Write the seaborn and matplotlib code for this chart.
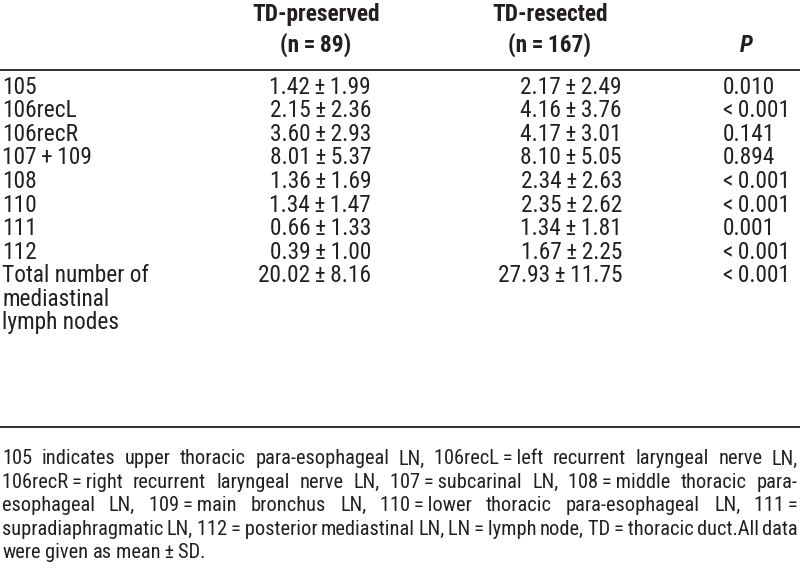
import matplotlib
matplotlib.use("Agg")
import matplotlib.pyplot as plt
import seaborn as sns

# data
stations = ["105", "106recL", "106recR", "107\u2009+\u2009109", "108", "110", "111", "112",
            "Total number of\nmediastinal\nlymph nodes"]
pres_mean = ["1.42", "2.15", "3.60", "8.01", "1.36", "1.34", "0.66", "0.39", "20.02"]
pres_sd = ["1.99", "2.36", "2.93", "5.37", "1.69", "1.47", "1.33", "1.00", "8.16"]
res_mean = ["2.17", "4.16", "4.17", "8.10", "2.34", "2.35", "1.34", "1.67", "27.93"]
res_sd = ["2.49", "3.76", "3.01", "5.05", "2.63", "2.62", "1.81", "2.25", "11.75"]
p_values = ["0.010", "<\u20090.001", "0.141", "0.894", "<\u20090.001", "<\u20090.001", "0.001",
            "<\u20090.001", "<\u20090.001"]
headers = ["TD-preserved\n(n\u2009=\u200989)", "TD-resected\n(n\u2009=\u2009167)", "P"]
footnote = [
    "105 indicates upper thoracic para-esophageal LN, 106recL\u2009=\u2009left recurrent laryngeal nerve LN,",
    "106recR\u2009=\u2009right recurrent laryngeal nerve LN, 107\u2009=\u2009subcarinal LN, 108\u2009=\u2009middle thoracic para-",
    "esophageal LN, 109\u2009=\u2009main bronchus LN, 110\u2009=\u2009lower thoracic para-esophageal LN, 111\u2009=",
    "supradiaphragmatic LN, 112\u2009=\u2009posterior mediastinal LN, LN\u2009=\u2009lymph node, TD\u2009=\u2009thoracic duct.All data",
    "were given as mean\u2009\u00b1\u2009SD.",
]

sns.set_style("white")
plt.rcParams["font.family"] = ["Roboto Condensed", "Liberation Sans", "DejaVu Sans"]

fig = plt.figure(figsize=(8, 5.83), dpi=100)
ax = fig.add_axes([0, 0, 1, 1])
ax.set_xlim(0, 800)
ax.set_ylim(583, 0)
ax.axis("off")

fs = 16.8
col = "#231f20"

# header
ax.text(316, 30, headers[0], ha="center", va="center", fontsize=fs, fontweight="bold",
        color=col, linespacing=1.35)
ax.text(550, 30, headers[1], ha="center", va="center", fontsize=fs, fontweight="bold",
        color=col, linespacing=1.35)
ax.text(746, 45, headers[2], ha="center", va="center", fontsize=fs, fontweight="bold",
        fontstyle="italic", color=col)
ax.plot([0, 800], [70, 70], color=col, lw=1.3)

# body rows
row_h = 23.6
y = 87
for i, st in enumerate(stations):
    lines = st.split("\n")
    for k, ln in enumerate(lines):
        ax.text(2, y + k * row_h, ln, ha="left", va="center", fontsize=fs, color=col)
    ax.text(371, y, f"{pres_mean[i]}\u2009\u00b1\u2009{pres_sd[i]}", ha="right", va="center",
            fontsize=fs, color=col)
    ax.text(622, y, f"{res_mean[i]}\u2009\u00b1\u2009{res_sd[i]}", ha="right", va="center",
            fontsize=fs, color=col)
    ax.text(723, y, p_values[i], ha="left", va="center", fontsize=fs, color=col)
    y += row_h * len(lines)

ax.plot([0, 800], [427, 427], color=col, lw=1.3)

# justified footnote
fs2 = 14.7
renderer = fig.canvas.get_renderer()
x0, x1 = 2, 798


def width_of(s):
    t = ax.text(0, 0, s, fontsize=fs2)
    w = t.get_window_extent(renderer).width
    t.remove()
    return w


fy = 459
for j, line in enumerate(footnote):
    words = line.split(" ")
    widths = [width_of(w) for w in words]
    if j < len(footnote) - 1:
        gap = (x1 - x0 - sum(widths)) / (len(words) - 1)
    else:
        gap = width_of("a a") - width_of("aa")
    x = x0
    for w, wd in zip(words, widths):
        ax.text(x, fy, w, ha="left", va="center", fontsize=fs2, color=col)
        x += wd + gap
    fy += 23.4

fig.savefig("out.png", dpi=100)
